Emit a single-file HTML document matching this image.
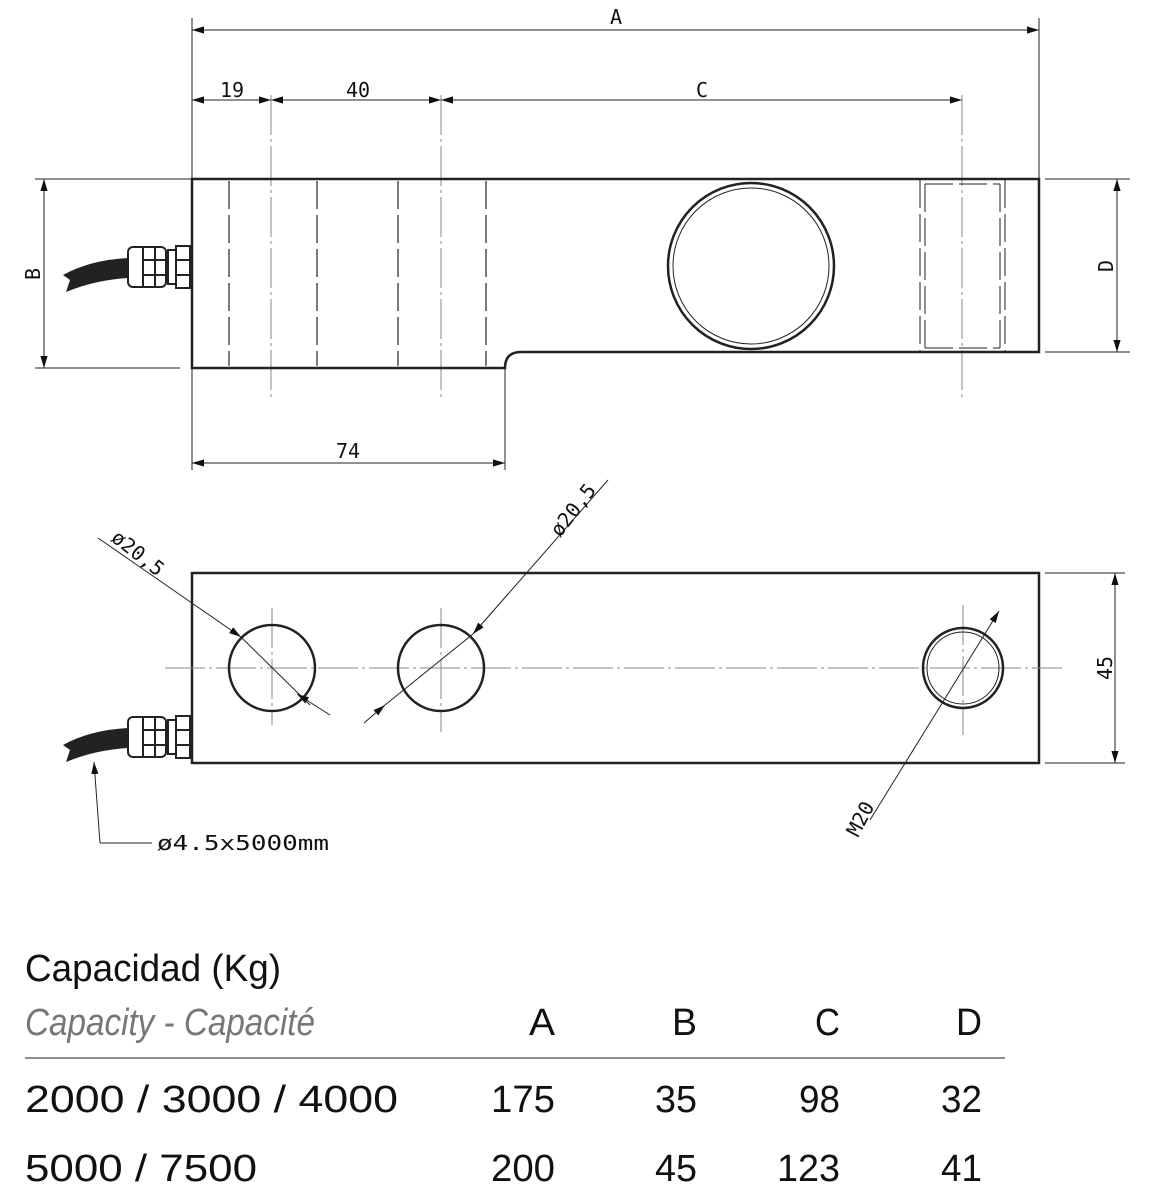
<!DOCTYPE html>
<html><head><style>html,body{margin:0;padding:0;background:#fff}svg{display:block}</style></head>
<body>
<svg width="1150" height="1200" viewBox="0 0 1150 1200" xmlns="http://www.w3.org/2000/svg">
<defs>
<marker id="ar" viewBox="0 0 10 10" refX="10" refY="5" markerWidth="12" markerHeight="12" markerUnits="userSpaceOnUse" orient="auto-start-reverse"><path d="M0,2 L10,5 L0,8 z" fill="#111"/></marker>
</defs>
<g fill="none" stroke="#222">
<g stroke-width="1">
<line x1="192" y1="18" x2="192" y2="179"/>
<line x1="1039" y1="18" x2="1039" y2="179"/>
<line x1="505" y1="368" x2="505" y2="470"/>
<line x1="192" y1="368" x2="192" y2="470"/>
<line x1="35" y1="179" x2="192" y2="179"/>
<line x1="35" y1="368" x2="180" y2="368"/>
<line x1="1045" y1="179" x2="1130" y2="179"/>
<line x1="1045" y1="352" x2="1130" y2="352"/>
</g>
<g stroke-width="1" marker-start="url(#ar)" marker-end="url(#ar)">
<line x1="192" y1="30" x2="1039" y2="30"/>
<line x1="192" y1="100" x2="271" y2="100"/>
<line x1="271" y1="100" x2="441" y2="100"/>
<line x1="441" y1="100" x2="962" y2="100"/>
<line x1="192" y1="463" x2="505" y2="463"/>
<line x1="44" y1="179" x2="44" y2="368"/>
<line x1="1117" y1="179" x2="1117" y2="352"/>
</g>
<g stroke="#888" stroke-width="1" stroke-dasharray="40,4,3,4">
<line x1="271" y1="95" x2="271" y2="398"/>
<line x1="441" y1="95" x2="441" y2="398"/>
<line x1="962" y1="95" x2="962" y2="398"/>
</g>
<path d="M192,179 H1039 V352 H521 Q505,352 505,368 H192 Z" stroke-width="2.5"/>
<g stroke-width="1.2" stroke-dasharray="28,6">
<line x1="229" y1="181" x2="229" y2="366"/>
<line x1="317" y1="181" x2="317" y2="366"/>
<line x1="398" y1="181" x2="398" y2="366"/>
<line x1="486" y1="181" x2="486" y2="366"/>
</g>
<circle cx="751" cy="266" r="83" stroke-width="2.5"/>
<circle cx="751" cy="266" r="78" stroke-width="1"/>
<g stroke-width="1" stroke-dasharray="28,6">
<line x1="920" y1="180" x2="920" y2="352"/>
<line x1="1005" y1="180" x2="1005" y2="352"/>
<line x1="925" y1="184" x2="925" y2="348"/>
<line x1="1000" y1="184" x2="1000" y2="348"/>
<line x1="925" y1="184" x2="1000" y2="184"/>
<line x1="925" y1="348" x2="1000" y2="348"/>
</g>
<g stroke-width="2">
<rect x="128" y="247" width="38" height="40" rx="5" fill="#fff"/>
<rect x="143" y="247" width="12" height="40" fill="#fff"/>
<line x1="143" y1="260" x2="166" y2="260"/><line x1="143" y1="275" x2="166" y2="275"/>
<rect x="168" y="250" width="8" height="34"/>
<rect x="176" y="246" width="14" height="42" fill="#fff"/>
<line x1="176" y1="260" x2="190" y2="260"/><line x1="176" y1="275" x2="190" y2="275"/>
</g>
<path d="M63,275 Q90,260 128,258 L128,278 Q95,280 66,292 L70,280 Z" fill="#222" stroke="none"/>

<rect x="192" y="573" width="847" height="190" stroke-width="2.5"/>
<g stroke-width="1">
<line x1="1045" y1="573" x2="1125" y2="573"/>
<line x1="1045" y1="763" x2="1125" y2="763"/>
<line x1="1115" y1="573" x2="1115" y2="763" marker-start="url(#ar)" marker-end="url(#ar)"/>
</g>
<g stroke="#888" stroke-width="1" stroke-dasharray="40,4,3,4">
<line x1="165" y1="668" x2="1062" y2="668"/>
<line x1="272" y1="608" x2="272" y2="725"/>
<line x1="441" y1="608" x2="441" y2="732"/>
<line x1="963" y1="605" x2="963" y2="735"/>
</g>
<circle cx="272" cy="668" r="43" stroke-width="2.5"/>
<circle cx="441" cy="668" r="43" stroke-width="2.5"/>
<circle cx="963" cy="668" r="40" stroke-width="2.5"/>
<circle cx="963" cy="668" r="36" stroke-width="1"/>
<g stroke-width="1">
<line x1="98" y1="538" x2="241" y2="637" marker-end="url(#ar)"/>
<line x1="241" y1="637" x2="310" y2="705"/>
<line x1="330" y1="715" x2="297" y2="694" marker-end="url(#ar)"/>
<line x1="608" y1="480" x2="473" y2="634" marker-end="url(#ar)"/>
<line x1="364" y1="723" x2="385" y2="705" marker-end="url(#ar)"/>
<line x1="385" y1="705" x2="473" y2="634"/>
<line x1="870" y1="820" x2="999" y2="611" marker-end="url(#ar)"/>
<line x1="100" y1="843" x2="152" y2="843"/>
<line x1="100" y1="843" x2="94" y2="762" marker-end="url(#ar)"/>
</g>
<g stroke-width="2">
<rect x="128" y="717" width="38" height="40" rx="5" fill="#fff"/>
<rect x="143" y="717" width="12" height="40" fill="#fff"/>
<line x1="143" y1="730" x2="166" y2="730"/><line x1="143" y1="745" x2="166" y2="745"/>
<rect x="168" y="720" width="8" height="34"/>
<rect x="176" y="716" width="14" height="42" fill="#fff"/>
<line x1="176" y1="730" x2="190" y2="730"/><line x1="176" y1="745" x2="190" y2="745"/>
</g>
<path d="M63,745 Q90,730 128,728 L128,748 Q95,750 66,762 L70,750 Z" fill="#222" stroke="none"/>

<line x1="25" y1="1058" x2="1005" y2="1058" stroke-width="1"/>
</g>

<g font-family="'DejaVu Sans Mono','Liberation Mono',monospace" font-size="20" fill="#111">
<text x="616" y="24" text-anchor="middle">A</text>
<text x="232" y="97" text-anchor="middle">19</text>
<text x="358" y="97" text-anchor="middle">40</text>
<text x="702" y="97" text-anchor="middle">C</text>
<text x="348" y="458" text-anchor="middle">74</text>
<text transform="translate(40,274) rotate(-90)" text-anchor="middle">B</text>
<text transform="translate(1113,266) rotate(-90)" text-anchor="middle">D</text>
<text transform="translate(1112,668) rotate(-90)" text-anchor="middle">45</text>
<text transform="translate(110,540) rotate(38)">ø20,5</text>
<text transform="translate(560,538) rotate(-52)">ø20,5</text>
<text transform="translate(858,838) rotate(-62)">M20</text>
<text x="157" y="850" textLength="172" lengthAdjust="spacingAndGlyphs">ø4.5x5000mm</text>
</g>

<g font-family="'Liberation Sans',sans-serif" font-size="38" fill="#111" lengthAdjust="spacingAndGlyphs">
<text x="25" y="981" textLength="256" lengthAdjust="spacingAndGlyphs">Capacidad (Kg)</text>
<text x="25" y="1035" fill="#777" font-style="italic" textLength="290" lengthAdjust="spacingAndGlyphs">Capacity - Capacité</text>
<text x="529" y="1035" textLength="26" lengthAdjust="spacingAndGlyphs">A</text>
<text x="672" y="1035" textLength="25" lengthAdjust="spacingAndGlyphs">B</text>
<text x="815" y="1035" textLength="25" lengthAdjust="spacingAndGlyphs">C</text>
<text x="956" y="1035" textLength="26" lengthAdjust="spacingAndGlyphs">D</text>
<text x="491" y="1112" textLength="64" lengthAdjust="spacingAndGlyphs">175</text>
<text x="655" y="1112" textLength="42" lengthAdjust="spacingAndGlyphs">35</text>
<text x="799" y="1112" textLength="41" lengthAdjust="spacingAndGlyphs">98</text>
<text x="941" y="1112" textLength="41" lengthAdjust="spacingAndGlyphs">32</text>
<text x="491" y="1181" textLength="64" lengthAdjust="spacingAndGlyphs">200</text>
<text x="655" y="1181" textLength="42" lengthAdjust="spacingAndGlyphs">45</text>
<text x="777" y="1181" textLength="63" lengthAdjust="spacingAndGlyphs">123</text>
<text x="941" y="1181" textLength="41" lengthAdjust="spacingAndGlyphs">41</text>
<text x="25" y="1112" textLength="373" lengthAdjust="spacingAndGlyphs">2000 / 3000 / 4000</text>
<text x="25" y="1181" textLength="232" lengthAdjust="spacingAndGlyphs">5000 / 7500</text>
</g>
</svg>
</body></html>
